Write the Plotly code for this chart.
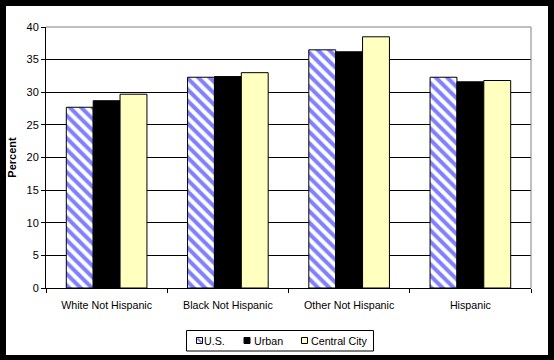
import plotly.graph_objects as go

categories = ["White Not Hispanic", "Black Not Hispanic", "Other Not Hispanic", "Hispanic"]
series_names = ["U.S.", "Urban", "Central City"]
us_values = [27.7, 32.3, 36.5, 32.3]
urban_values = [28.7, 32.4, 36.2, 31.6]
central_values = [29.7, 33.0, 38.5, 31.8]
y_ticks = [0, 5, 10, 15, 20, 25, 30, 35, 40]

W, H = 554, 360
L, R, T, B = 46, 531, 27, 288  # plot area in pixels
pw, ph = R - L, B - T

def px_x(p):
    return (p - L) / pw

def px_y(p):
    return (B - p) / ph

font = "Liberation Sans, Arial, sans-serif"
FS = 10.7
FSY = 11
US_BLUE = "#8080FF"
CC_YELLOW = "#FFFFC0"

fig = go.Figure()
fig.add_bar(name=series_names[0], x=categories, y=us_values,
            marker=dict(color="white", line=dict(color="black", width=1),
                        pattern=dict(shape="\\", fgcolor=US_BLUE, bgcolor="white",
                                     size=8, solidity=0.5, fillmode="replace",
                                     fgopacity=1)))
fig.add_bar(name=series_names[1], x=categories, y=urban_values,
            marker=dict(color="black", line=dict(color="black", width=1)))
fig.add_bar(name=series_names[2], x=categories, y=central_values,
            marker=dict(color=CC_YELLOW, line=dict(color="black", width=1)))

shapes = [
    dict(type="rect", xref="paper", yref="paper", layer="below",
         x0=px_x(6), x1=px_x(548), y0=px_y(355), y1=px_y(6),
         fillcolor="white", line=dict(width=0)),
    dict(type="line", xref="paper", yref="paper", layer="above",
         x0=0, x1=1, y0=1, y1=1, line=dict(color="#808080", width=1)),
    dict(type="line", xref="paper", yref="paper", layer="above",
         x0=1, x1=1, y0=0, y1=1, line=dict(color="#808080", width=1)),
    dict(type="rect", xref="paper", yref="paper", layer="above",
         x0=px_x(186.5), x1=px_x(373.5), y0=px_y(351), y1=px_y(330.5),
         fillcolor="white", line=dict(color="black", width=1)),
]
annotations = []

legend_pos = [(196.5, 203), (244, 253), (301.5, 310)]
sw = 6
sy0, sy1 = 337.5, 343.5
fills = ["white", "black", CC_YELLOW]
for name, (sx, tx), fc in zip(series_names, legend_pos, fills):
    shapes.append(dict(type="rect", xref="paper", yref="paper", layer="above",
                       x0=px_x(sx), x1=px_x(sx + sw), y0=px_y(sy1), y1=px_y(sy0),
                       fillcolor=fc, line=dict(color="black", width=1)))
    if name == series_names[0]:
        shapes.append(dict(type="line", xref="paper", yref="paper", layer="above",
                           x0=px_x(sx + 1), x1=px_x(sx + sw - 1),
                           y0=px_y(sy0 + 1), y1=px_y(sy1 - 1),
                           line=dict(color=US_BLUE, width=2)))
    annotations.append(dict(xref="paper", yref="paper", x=px_x(tx), y=px_y(340.5),
                            xanchor="left", yanchor="middle", showarrow=False,
                            text=name, font=dict(size=FS, family=font, color="black"),
                            borderpad=0))

fig.update_layout(
    width=W, height=H,
    margin=dict(l=L, r=W - R, t=T, b=H - B, pad=0, autoexpand=False),
    paper_bgcolor="black", plot_bgcolor="white",
    barmode="group", bargap=0.335, bargroupgap=0,
    font=dict(family=font, size=FS, color="black"),
    showlegend=False,
    shapes=shapes,
    annotations=annotations,
)
fig.update_xaxes(showline=True, linecolor="black", linewidth=1, automargin=False,
                 ticks="outside", ticklen=4, tickcolor="black", tickson="boundaries",
                 ticklabelstandoff=7,
                 showgrid=False, tickfont=dict(size=FS))
fig.update_yaxes(range=[0, 40], tickvals=y_ticks, showline=True, linecolor="black",
                 linewidth=1, ticks="outside", ticklen=4, tickcolor="black",
                 automargin=False,
                 showgrid=True, gridcolor="black", gridwidth=1, zeroline=False,
                 tickfont=dict(size=FSY),
                 title=dict(text="<b>Percent</b>", font=dict(size=FSY), standoff=7))

fig.write_html("out.html", config={"displayModeBar": False},
               post_script="document.body.style.margin='0';document.body.style.overflow='hidden';")
